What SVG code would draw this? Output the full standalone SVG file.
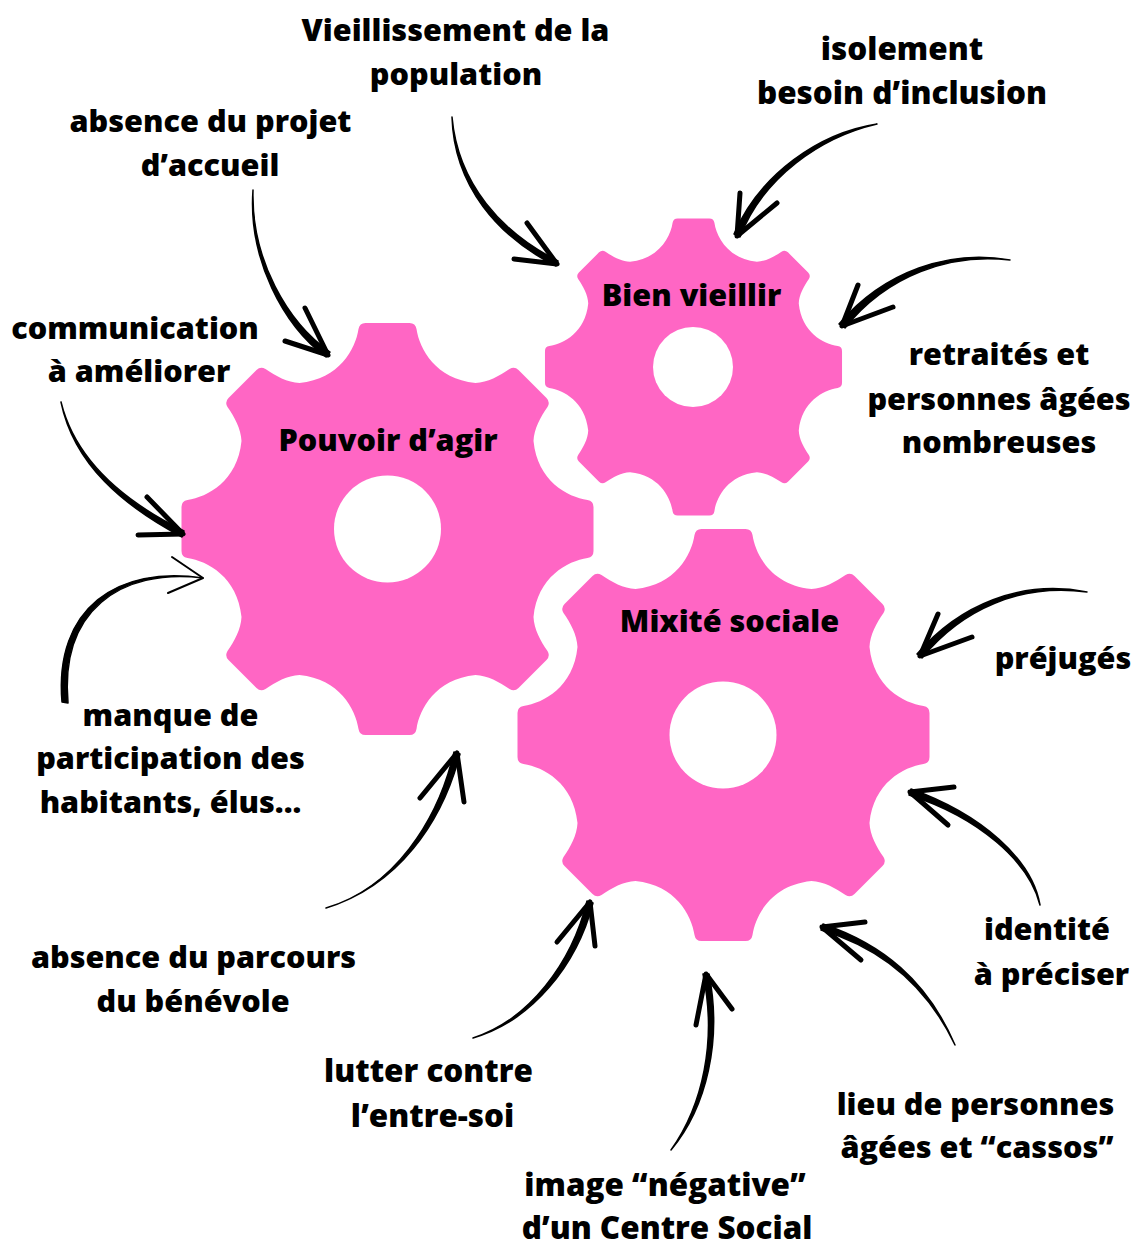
<svg xmlns="http://www.w3.org/2000/svg" width="1134" height="1243" viewBox="0 0 1134 1243">
<style>
text{font-family:"Open Sans","Noto Sans","Liberation Sans",sans-serif;font-weight:800;font-size:30.6px;fill:#000;text-anchor:middle}
.big{font-size:31.4px}
.gear{fill:#ff66c4}
.hole{fill:#fff}
.shaft{fill:#000;stroke:#000;stroke-width:1.5;stroke-linejoin:round}
.head{fill:none;stroke:#000;stroke-width:5;stroke-linecap:round;stroke-linejoin:round}
.thin{stroke-width:2}
</style>
<defs>
<path id="g" d="M-22-206L22-206Q28-206 29-200C32-180 48-150 88-146C100-146.500 112-153 122-160Q127-163 131-159L159-131Q163-127 160-122C153-112 146.500-100 146-88C150-48 180-32 200-29Q206-28 206-22L206 22Q206 28 200 29C180 32 150 48 146 88C146.500 100 153 112 160 122Q163 127 159 131L131 159Q127 163 122 160C112 153 100 146.500 88 146C48 150 32 180 29 200Q28 206 22 206L-22 206Q-28 206 -29 200C-32 180 -48 150 -88 146C-100 146.500 -112 153 -122 160Q-127 163 -131 159L-159 131Q-163 127 -160 122C-153 112 -146.500 100 -146 88C-150 48 -180 32 -200 29Q-206 28 -206 22L-206-22Q-206-28 -200-29C-180-32 -150-48 -146-88C-146.500-100 -153-112 -160-122Q-163-127 -159-131L-131-159Q-127-163 -122-160C-112-153 -100-146.500 -88-146C-48-150 -32-180 -29-200Q-28-206 -22-206Z"/>
</defs>
<g id="gear-pouvoir"><use href="#g" class="gear" transform="translate(387.500 529)"/><circle class="hole" cx="387.500" cy="529" r="53.500"/><text x="388" y="451">Pouvoir d’agir</text></g>
<g id="gear-bien"><use href="#g" class="gear" transform="translate(693.500 367) scale(.721)"/><circle class="hole" cx="693" cy="367" r="40"/><text x="691.500" y="306">Bien vieillir</text></g>
<g id="gear-mixite"><use href="#g" class="gear" transform="translate(723.500 735)"/><circle class="hole" cx="723" cy="735" r="53.500"/><text x="729.500" y="632">Mixité sociale</text></g>
<g id="connectors">
<path class="shaft" d="M452 117C454 186 498 237 556 266L558 261C502 233 458 184 452 117Z"/><path class="head" d="M527 223L557 264L514 259"/>
<path class="shaft" d="M877 124C819 133 760 174 734 234L740 237C763 177 821 137 877 124Z"/><path class="head" d="M740 193L737 236L777 203"/>
<path class="shaft" d="M1010 260C950 249 884 271 839 324L845 328C887 275 950 253 1010 260Z"/><path class="head" d="M858 285L842 326L893 307"/>
<path class="shaft" d="M253 190C248 260 284 326 326 357L330 352C288 323 251 260 253 190Z"/><path class="head" d="M305 308L328 355L285 341"/>
<path class="shaft" d="M61 402C74 465 124 506 182 537L184 531C127 503 76 463 61 402Z"/><path class="head" d="M147 497L183 534L138 535"/>
<path class="shaft" d="M62 702C54 608 118 565 203 578C120 568 60 611 68 703Z"/><path class="head thin" d="M172 557L203 578L168 593"/>
<path class="shaft" d="M326 908C394 888 438 821 454 752L460 754C442 823 398 886 326 908Z"/><path class="head" d="M420 798L457 753L464 802"/>
<path class="shaft" d="M473 1038C529 1020 572 963 587 901L593 903C577 965 532 1021 473 1038Z"/><path class="head" d="M557 942L590 902L595 946"/>
<path class="shaft" d="M671 1150C703 1105 717 1040 703 974L709 974C722 1040 707 1107 671 1150Z"/><path class="head" d="M696 1025L706 974L732 1009"/>
<path class="shaft" d="M955 1045C927 980 882 944 823 924L821 930C878 947 925 982 955 1045Z"/><path class="head" d="M865 922L822 927L861 960"/>
<path class="shaft" d="M1040 905C1032 859 981 814 911 789L909 795C978 817 1029 861 1040 905Z"/><path class="head" d="M954 787L910 792L948 825"/>
<path class="shaft" d="M1087 592C1021 579 959 605 917 654L922 658C962 609 1021 583 1087 592Z"/><path class="head" d="M938 614L920 656L972 637"/>
</g>
<g id="label-vieillissement"><text x="455.500" y="41">Vieillissement de la</text><text x="456" y="85">population</text></g>
<g id="label-isolement"><text class="big" x="902" y="60">isolement</text><text class="big" x="902" y="104">besoin d’inclusion</text></g>
<g id="label-projet"><text x="210.500" y="132">absence du projet</text><text x="210" y="176">d’accueil</text></g>
<g id="label-communication"><text x="135" y="339">communication</text><text x="139" y="382">à améliorer</text></g>
<g id="label-retraites"><text x="999" y="365">retraités et</text><text x="999" y="410">personnes âgées</text><text x="999" y="453">nombreuses</text></g>
<g id="label-prejuges"><text x="1063" y="669">préjugés</text></g>
<g id="label-manque"><text x="170.500" y="726">manque de</text><text x="170.500" y="769">participation des</text><text x="170.500" y="813">habitants, élus...</text></g>
<g id="label-identite"><text x="1047" y="940">identité</text><text x="1051.500" y="985">à préciser</text></g>
<g id="label-parcours"><text x="193.500" y="968">absence du parcours</text><text x="193" y="1012">du bénévole</text></g>
<g id="label-entre-soi"><text class="big" x="428.500" y="1082">lutter contre</text><text class="big" x="432.500" y="1127">l’entre-soi</text></g>
<g id="label-lieu"><text x="975.500" y="1115">lieu de personnes</text><text x="977" y="1158">âgées et “cassos”</text></g>
<g id="label-image"><text class="big" x="665" y="1196">image “négative”</text><text class="big" x="667" y="1239">d’un Centre Social</text></g>
</svg>
